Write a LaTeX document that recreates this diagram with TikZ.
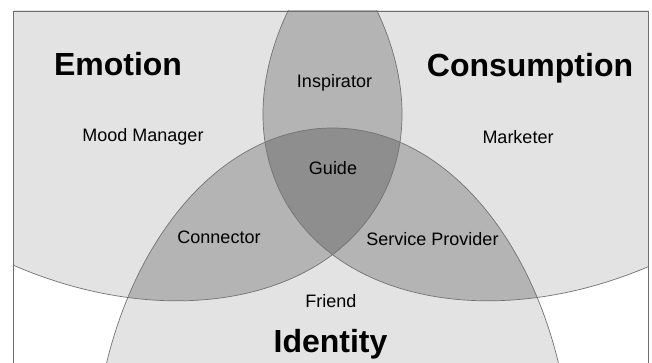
\documentclass[tikz,border=0pt]{standalone}
\usepackage{fontspec}
\setmainfont{Liberation Sans}
\definecolor{gA}{HTML}{E3E3E3}
\definecolor{gB}{HTML}{B4B4B4}
\definecolor{gC}{HTML}{8E8E8E}
\definecolor{edgecol}{HTML}{737373}
\definecolor{framecol}{HTML}{6E6E6E}
\begin{document}
\begin{tikzpicture}[x=1pt,y=-1pt,
  lab/.style={font=\fontsize{18}{18}\selectfont, anchor=base, inner sep=0pt},
  big/.style={font=\fontsize{32}{32}\selectfont\bfseries, anchor=base, inner sep=0pt},
  outline/.style={draw=edgecol, line width=0.7pt},
  emorot/.style={rotate around={-28.2:(89,41)}},
  conrot/.style={rotate around={28.2:(576,41)}}]
\clip (0,0) rectangle (652,363);
\fill[white] (0,0) rectangle (652,363);
\begin{scope}
  \clip (13.5,11) rectangle (648.5,370);
  % single regions
  \fill[gA, emorot] (89,41) ellipse [x radius=332, y radius=235];
  \fill[gA, conrot] (576,41) ellipse [x radius=332, y radius=235];
  \fill[gA] (332.5,483) ellipse [x radius=240, y radius=355];
  % pairwise overlaps
  \begin{scope}
    \clip[emorot] (89,41) ellipse [x radius=332, y radius=235];
    \fill[gB, conrot] (576,41) ellipse [x radius=332, y radius=235];
    \fill[gB] (332.5,483) ellipse [x radius=240, y radius=355];
  \end{scope}
  \begin{scope}
    \clip[conrot] (576,41) ellipse [x radius=332, y radius=235];
    \fill[gB] (332.5,483) ellipse [x radius=240, y radius=355];
  \end{scope}
  % triple overlap
  \begin{scope}
    \clip[emorot] (89,41) ellipse [x radius=332, y radius=235];
    \clip[conrot] (576,41) ellipse [x radius=332, y radius=235];
    \fill[gC] (332.5,483) ellipse [x radius=240, y radius=355];
  \end{scope}
  % outlines
  \draw[outline, emorot] (89,41) ellipse [x radius=332, y radius=235];
  \draw[outline, conrot] (576,41) ellipse [x radius=332, y radius=235];
  \draw[outline] (332.5,483) ellipse [x radius=240, y radius=355];
\end{scope}
\draw[framecol, line width=0.9pt] (13.5,11) rectangle (648.5,375);
% labels
\node[big] (emotion) at (118,76) {Emotion};
\node[big] (consumption) at (530,77) {Consumption};
\node[big] (identity) at (330.5,352) {Identity};
\node[lab] (mood) at (143,142) {Mood Manager};
\node[lab] (marketer) at (518,144) {Marketer};
\node[lab] (inspirator) at (334.5,88) {Inspirator};
\node[lab] (guide) at (333,175) {Guide};
\node[lab] (connector) at (219,243) {Connector};
\node[lab] (service) at (432.5,245) {Service Provider};
\node[lab] (friend) at (331,307) {Friend};
\end{tikzpicture}
\end{document}
